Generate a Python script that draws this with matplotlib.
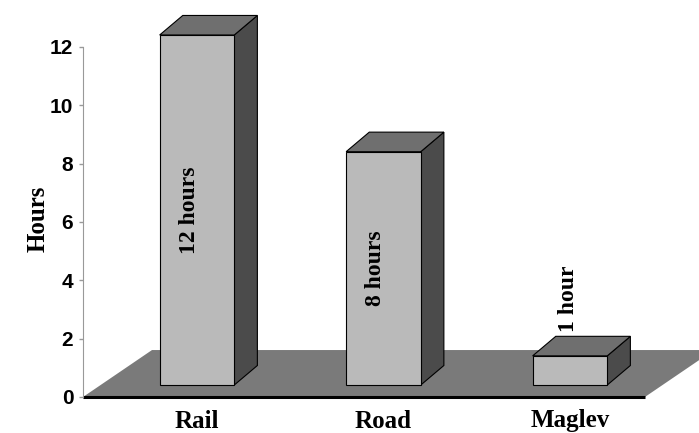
import matplotlib.pyplot as plt
from matplotlib.patches import Polygon

modes = ['Rail', 'Road', 'Maglev']
hours = [12, 8, 1]

# pseudo-3D geometry (x in category units, y in hours)
bar_w = 0.40
depth_x, depth_y = 0.124, 0.67    # bar depth
lift = 0.41                        # bars stand a little back on the floor
floor_dx, floor_dy = 0.37, 1.61   # floor depth
floor_x0, floor_x1 = -0.611, 2.402

c_front = '#bababa'
c_top = '#6f6f6f'
c_side = '#4b4b4b'
c_floor = '#7a7a7a'

fig = plt.figure(figsize=(6.99, 4.33), dpi=100)
ax = fig.add_axes([83/699, 36/433, 616/699, 397/433])
ax.set_xlim(-0.611, 2.692)
ax.set_ylim(0, 13.61)

# floor
floor = Polygon([(floor_x0, 0), (floor_x1, 0), (floor_x1 + floor_dx, floor_dy),
                 (floor_x0 + floor_dx, floor_dy)], closed=True,
                facecolor=c_floor, edgecolor='none', zorder=1)
ax.add_patch(floor)
ax.plot([floor_x0, floor_x1], [0, 0], color='black', lw=2.2, zorder=2,
        solid_capstyle='butt', clip_on=False)

for i, (name, h) in enumerate(zip(modes, hours)):
    x0, x1 = i - bar_w/2, i + bar_w/2
    y0, y1 = lift, lift + h
    side = Polygon([(x1, y0), (x1 + depth_x, y0 + depth_y), (x1 + depth_x, y1 + depth_y), (x1, y1)],
                   closed=True, facecolor=c_side, edgecolor='black', lw=0.8, zorder=3)
    top = Polygon([(x0, y1), (x1, y1), (x1 + depth_x, y1 + depth_y), (x0 + depth_x, y1 + depth_y)],
                  closed=True, facecolor=c_top, edgecolor='black', lw=0.8, zorder=3)
    front = Polygon([(x0, y0), (x1, y0), (x1, y1), (x0, y1)],
                    closed=True, facecolor=c_front, edgecolor='black', lw=0.8, zorder=4)
    for p in (side, top, front):
        p.set_clip_on(False)
        ax.add_patch(p)

    label = '%d hour' % h if h == 1 else '%d hours' % h
    if h >= 4:
        ax.text(i - 0.04, lift + h/2, label, rotation=90, ha='center', va='center',
                family='Liberation Serif', weight='bold', fontsize=17, zorder=5)
    else:
        ax.text(i - 0.01, lift + h + depth_y + 0.15, label, rotation=90, ha='center', va='bottom',
                family='Liberation Serif', weight='bold', fontsize=17, zorder=5)

ax.set_xticks(range(len(modes)))
ax.set_xticklabels(modes, family='Liberation Serif', weight='bold', fontsize=18)
ax.tick_params(axis='x', length=0, pad=9)

ax.set_yticks([0, 2, 4, 6, 8, 10, 12])
ax.set_yticklabels(['0', '2', '4', '6', '8', '10', '12'], family='Liberation Sans',
                   weight='bold', fontsize=15)
ax.tick_params(axis='y', length=3, width=1, color='#999999', pad=4)
ax.set_ylabel('Hours', family='Liberation Serif', weight='bold', fontsize=18)
ax.yaxis.set_label_coords(-0.054, 0.448)

for s in ['top', 'right', 'bottom']:
    ax.spines[s].set_visible(False)
ax.spines['left'].set_bounds(0, 12)
ax.spines['left'].set_color('#999999')
ax.patch.set_alpha(0)

fig.savefig('out.png', dpi=100)
